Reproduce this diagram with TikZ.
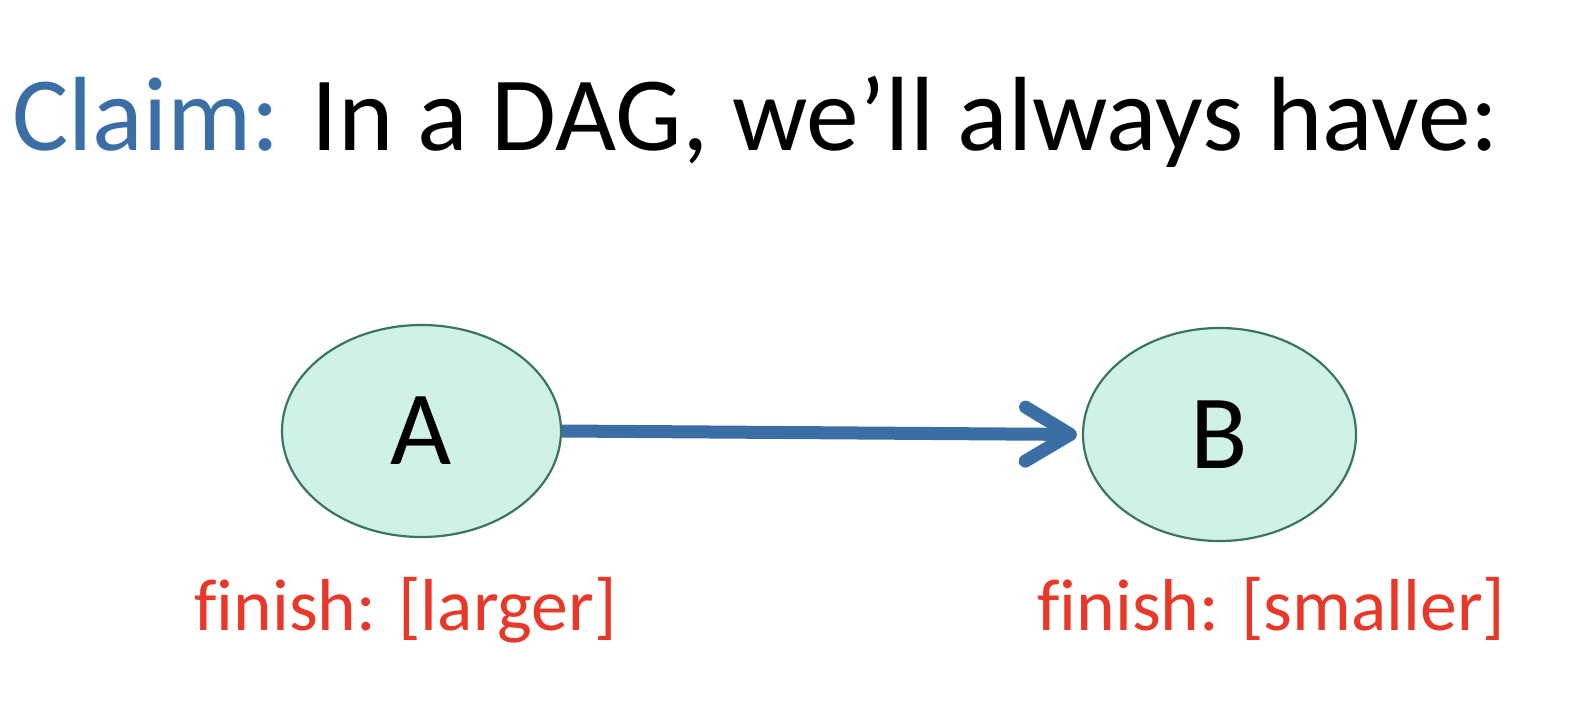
\documentclass[tikz,border=0pt]{standalone}
\usepackage{fontspec}
\setmainfont{Carlito}[Ligatures=NoCommon]
\usetikzlibrary{arrows.meta,shapes.geometric}
\definecolor{claimblue}{HTML}{3A6EA5}
\definecolor{finred}{HTML}{E8382A}
\definecolor{nodefill}{HTML}{D0F2E6}
\definecolor{nodeline}{HTML}{3A7560}
\tikzset{
  vertex/.style={ellipse, draw=nodeline, fill=nodefill, line width=2.2pt,
    minimum height=212pt, inner sep=0pt,
    font=\fontsize{105.5}{110}\selectfont},
  finlabel/.style={anchor=base west, inner sep=0pt, text=finred,
    font=\fontsize{73.6}{80}\selectfont},
  edge/.style={draw=claimblue, line width=13pt,
    -{Straight Barb[length=45pt,width=54pt,round]}}
}
\begin{document}
\begin{tikzpicture}[x=1pt,y=-1pt]
\useasboundingbox (0,0) rectangle (1586,702);
\node[anchor=base west, inner sep=0pt, font=\fontsize{105.5}{114}\selectfont] (title) at (12,150)
  {\textcolor{claimblue}{Claim:} In a DAG, we’ll always have:};
\node[vertex, minimum width=279pt] (A) at (421.5,431) {A};
\node[vertex, minimum width=273pt, minimum height=213pt] (B) at (1219.5,434.5) {B};
\draw[edge, shorten >=5pt] (A.east) -- (B.west);
\node[finlabel] (fa) at (194,630) {finish: [larger]};
\node[finlabel] (fb) at (1037,630) {finish: [smaller]};
\end{tikzpicture}
\end{document}
